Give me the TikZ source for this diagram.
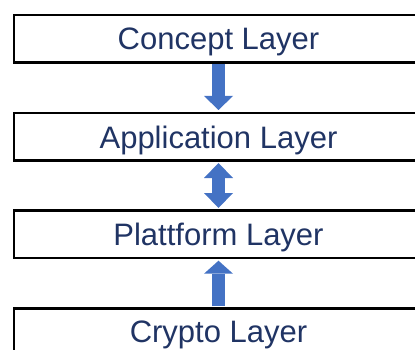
\documentclass[tikz,border=0pt]{standalone}
\usepackage{fontspec}
\setmainfont{Liberation Sans}
\usetikzlibrary{arrows.meta}
\definecolor{layertext}{RGB}{32,52,100}
\definecolor{flowblue}{RGB}{68,114,196}
\tikzstyle{layer}=[rectangle, draw=black, line width=2.5pt, fill=white, minimum width=409.5pt, minimum height=47.5pt, inner sep=0pt, text depth=0pt, text=layertext, font=\fontsize{31}{37}\selectfont]
\tikzstyle{flow}=[draw=flowblue, line width=13pt]

\begin{document}
\begin{tikzpicture}[x=1pt,y=-1pt]
	\clip (0,0) rectangle (415,350);
	
	%The layers
	\draw (218.5,39) node[layer] (concept) {Concept Layer};
	\draw (218.5,137) node[layer] (application) {Application Layer};
	\draw (218.5,234) node[layer] (plattform) {Plattform Layer};
	\draw (218.5,332) node[layer] (crypto) {Crypto Layer};
	
	%The arrows
	\draw[flow, -{Triangle[length=14pt,width=29pt,line width=0pt]}, shorten >=2pt] (concept) -- (application);
	\draw[flow, {Triangle[length=15pt,width=29pt,line width=0pt]}-{Triangle[length=15pt,width=29pt,line width=0pt]}, shorten <=1pt, shorten >=1pt] (application) -- (plattform);
	\draw[flow, -{Triangle[length=13pt,width=29pt,line width=0pt]}, shorten <=1pt, shorten >=1.7pt] (crypto) -- (plattform);
\end{tikzpicture}
\end{document}
